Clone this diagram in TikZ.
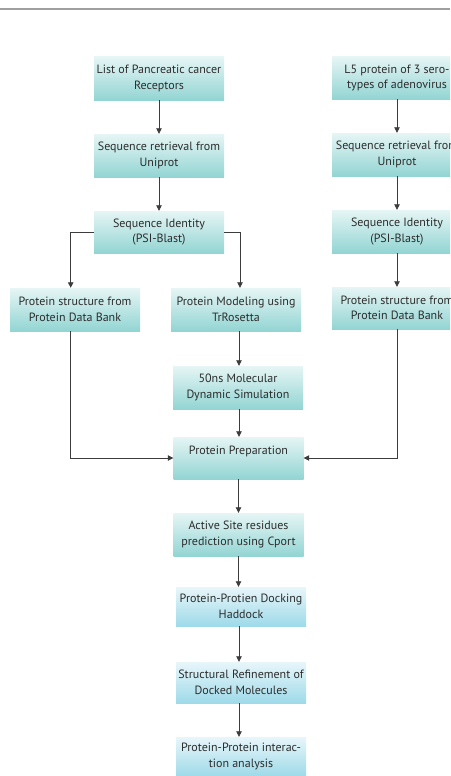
\documentclass[tikz,border=0pt]{standalone}
\usepackage{fontspec}
\setmainfont{PT Sans}
\usetikzlibrary{arrows.meta}
\definecolor{tealtop}{RGB}{230,245,245}
\definecolor{tealbot}{RGB}{146,213,211}
\definecolor{bluetop}{RGB}{232,246,250}
\definecolor{bluebot}{RGB}{158,218,233}
\definecolor{txt}{RGB}{45,45,45}
\definecolor{conn}{RGB}{60,60,60}
\tikzset{
  stepbox/.style={rectangle, minimum width=130pt, minimum height=43pt, inner sep=0pt,
    top color=tealtop, bottom color=tealbot, draw=none, align=center, text=txt,
    font=\fontsize{12pt}{15.5pt}\selectfont},
  bluebox/.style={stepbox, top color=bluetop, bottom color=bluebot},
  arr/.style={draw=conn, line width=0.8pt, -{Triangle[length=5.5pt,width=5.5pt]}}
}
\begin{document}
\begin{tikzpicture}[x=1pt,y=-1pt]
\useasboundingbox (0,0) rectangle (450,776);
\clip (0,0) rectangle (450,776);
\draw[draw=gray!75, line width=1.2pt] (0,9) -- (450,9);
% left column top
\node[stepbox] (r1) at (159,78.5) {List of Pancreatic cancer\\Receptors};
\node[stepbox] (r2) at (159,155.5) {Sequence retrieval from\\Uniprot};
\node[stepbox, minimum height=42pt] (r3) at (159,232) {Sequence Identity\\(PSI-Blast)};
\node[stepbox] (l4) at (75,309.5) {Protein structure from\\Protein Data Bank};
\node[stepbox] (m4) at (236,309.5) {Protein Modeling using\\TrRosetta};
\node[stepbox] (m5) at (238,387.5) {50ns Molecular\\Dynamic Simulation};
\node[stepbox, minimum height=42pt] (m6) at (238.5,458) {Protein Preparation\\ ~};
\node[stepbox] (m7) at (238.5,534.5) {Active Site residues\\prediction using Cport};
\node[bluebox, minimum height=39pt] (m8) at (241,606.5) {Protein-Protien Docking\\Haddock};
\node[bluebox, minimum height=41pt] (m9) at (241,682.5) {Structural Refinement of\\Docked Molecules};
\node[bluebox, minimum height=39pt] (m10) at (241,756.5) {Protein-Protein interac-\\tion analysis};
% right column
\node[stepbox, minimum height=42pt] (R1) at (397,78) {L5 protein of 3 sero-\\types of adenovirus};
\node[stepbox] (R2) at (397,154.5) {Sequence retrieval from\\Uniprot};
\node[stepbox] (R3) at (397,231.5) {Sequence Identity\\(PSI-Blast)};
\node[stepbox, minimum height=42pt] (R4) at (397,308) {Protein structure from\\Protein Data Bank};
% connectors
\draw[arr] (r1) -- (r2);
\draw[arr] (r2) -- (r3);
\draw[arr] (r3.west) -| ([xshift=-4.3pt]l4.north);
\draw[arr] (r3.east) -| ([xshift=4pt]m4.north);
\draw[arr] ([xshift=3pt]m4.south) -- ([xshift=3pt]m4.south |- m5.north);
\draw[arr] ([xshift=1pt]m5.south) -- ([xshift=1pt]m5.south |- m6.north);
\draw[arr] ([xshift=-4.3pt]l4.south) |- (m6.west);
\draw[arr] (R4.south) |- (m6.east);
\draw[arr] (m6.south) -- (m6.south |- m7.north);
\draw[arr] (m7.south) -- (m7.south |- m8.north);
\draw[arr] ([xshift=-2pt]m8.south) -- ([xshift=-2pt]m8.south |- m9.north);
\draw[arr] ([xshift=-2pt]m9.south) -- ([xshift=-2pt]m9.south |- m10.north);
\draw[arr] (R1) -- (R2);
\draw[arr] (R2) -- (R3);
\draw[arr] (R3) -- (R4);
\end{tikzpicture}
\end{document}
